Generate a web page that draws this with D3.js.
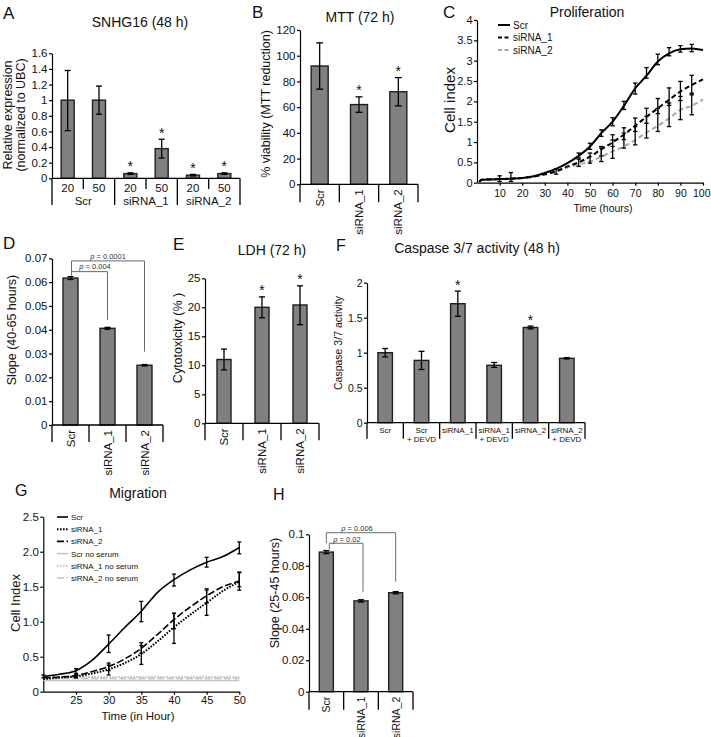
<!DOCTYPE html>
<html><head><meta charset="utf-8">
<script src="https://cdn.jsdelivr.net/npm/d3@7"></script>
<style>body{margin:0;background:#fff}</style>
</head><body>
<svg id="chart" width="711" height="737"></svg>
<script>
// ---------------- DATA ----------------
// A: SNHG16 (48 h)
const aCategories = ["20","50","20","50","20","50"];
const aGroups = ["Scr","siRNA_1","siRNA_2"];
const aValues = [1.0, 1.0, 0.06, 0.38, 0.04, 0.06];
const aLow = [0.61, 0.82, 0.05, 0.26, 0.03, 0.05];
const aHigh = [1.38, 1.18, 0.07, 0.50, 0.05, 0.07];
const aStars = [false, false, true, true, true, true];
const aTicks = [0, 0.2, 0.4, 0.6, 0.8, 1, 1.2, 1.4, 1.6];

// B: MTT (72 h)
const bCategories = ["Scr","siRNA_1","siRNA_2"];
const bValues = [92, 62, 72];
const bLow = [74, 56, 61];
const bHigh = [110, 68, 83];
const bStars = [false, true, true];
const bTicks = [0, 20, 40, 60, 80, 100, 120];

// C: Proliferation
const cTime = [1, 2, 5, 10, 15, 20, 25, 30, 35, 40, 45, 50, 55, 60, 65, 70, 75, 80, 85, 90, 95, 100];
const cScr  = [0.02, 0.07, 0.08, 0.09, 0.10, 0.115, 0.16, 0.24, 0.34, 0.48, 0.66, 0.89, 1.22, 1.50, 1.89, 2.32, 2.63, 2.98, 3.18, 3.28, 3.30, 3.26];
const cSi1  = [0.02, 0.07, 0.08, 0.09, 0.10, 0.115, 0.15, 0.21, 0.28, 0.40, 0.50, 0.64, 0.82, 0.99, 1.18, 1.40, 1.62, 1.83, 2.04, 2.24, 2.40, 2.54];
const cSi2  = [0.02, 0.07, 0.08, 0.09, 0.10, 0.115, 0.15, 0.20, 0.28, 0.37, 0.45, 0.52, 0.64, 0.77, 0.89, 1.05, 1.23, 1.40, 1.58, 1.79, 1.89, 2.05];
const cScrErrT = [10, 15, 45, 50, 55, 60, 65, 70, 75, 80, 85, 90, 95];
const cScrLo = [0.03, 0.03, 0.61, 0.82, 1.14, 1.40, 1.80, 2.18, 2.57, 2.90, 3.12, 3.21, 3.22];
const cScrHi = [0.17, 0.25, 0.73, 0.97, 1.30, 1.60, 2.00, 2.45, 2.83, 3.16, 3.32, 3.37, 3.40];
const cSi1ErrT = [35, 45, 50, 55, 60, 65, 70, 75, 80, 85, 90, 95];
const cSi1Lo = [0.21, 0.40, 0.48, 0.66, 0.89, 1.06, 1.26, 1.46, 1.70, 1.90, 2.02, 2.16];
const cSi1Hi = [0.34, 0.58, 0.73, 0.89, 1.18, 1.35, 1.59, 1.83, 2.07, 2.33, 2.49, 2.64];
const cSi2ErrT = [55, 60, 65, 70, 75, 80, 85, 90, 95];
const cSi2Lo = [0.52, 0.60, 0.85, 0.93, 1.10, 1.26, 1.38, 1.55, 1.67];
const cSi2Hi = [0.85, 1.05, 1.22, 1.38, 1.63, 1.83, 1.96, 2.12, 2.20];
const cYTicks = [0, 0.5, 1, 1.5, 2, 2.5, 3, 3.5, 4];
const cXTicks = [10, 20, 30, 40, 50, 60, 70, 80, 90, 100];
const cSeries = ["Scr", "siRNA_1", "siRNA_2"];

// D: Slope (40-65 hours)
const dCategories = ["Scr","siRNA_1","siRNA_2"];
const dValues = [0.0617, 0.0406, 0.0251];
const dLow = [0.0611, 0.0402, 0.0248];
const dHigh = [0.0623, 0.0410, 0.0254];
const dTicks = [0, 0.01, 0.02, 0.03, 0.04, 0.05, 0.06, 0.07];
const dPvals = ["p = 0.004", "p = 0.0001"];

// E: LDH (72 h)
const eCategories = ["Scr","siRNA_1","siRNA_2"];
const eValues = [11.0, 20.0, 20.4];
const eLow = [9.2, 18.2, 17.0];
const eHigh = [12.8, 21.8, 23.7];
const eStars = [false, true, true];
const eTicks = [0, 5, 10, 15, 20, 25];

// F: Caspase 3/7 activity (48 h)
const fCategories = [["Scr",""],["Scr","+ DEVD"],["siRNA_1",""],["siRNA_1","+ DEVD"],["siRNA_2",""],["siRNA_2","+ DEVD"]];
const fValues = [1.00, 0.89, 1.70, 0.82, 1.36, 0.92];
const fLow = [0.94, 0.76, 1.52, 0.79, 1.34, 0.91];
const fHigh = [1.06, 1.02, 1.88, 0.86, 1.38, 0.93];
const fStars = [false, false, true, false, true, false];
const fTicks = [0, 0.5, 1, 1.5, 2];

// G: Migration
const gTime = [20, 22.5, 25, 27.5, 30, 32.5, 35, 37.5, 40, 42.5, 45, 47.5, 50];
const gScr  = [0.22, 0.25, 0.30, 0.45, 0.68, 0.92, 1.15, 1.42, 1.60, 1.74, 1.85, 1.93, 2.06];
const gSi1  = [0.18, 0.20, 0.22, 0.26, 0.32, 0.41, 0.54, 0.72, 0.92, 1.10, 1.27, 1.44, 1.57];
const gSi2  = [0.20, 0.21, 0.23, 0.29, 0.36, 0.47, 0.62, 0.82, 1.03, 1.21, 1.37, 1.50, 1.58];
const gScrNS = [0.16, 0.16, 0.16, 0.16, 0.16, 0.16, 0.16, 0.16, 0.16, 0.16, 0.16, 0.16, 0.16];
const gSi1NS = [0.21, 0.21, 0.21, 0.21, 0.21, 0.21, 0.21, 0.21, 0.21, 0.21, 0.21, 0.21, 0.21];
const gSi2NS = [0.19, 0.19, 0.19, 0.19, 0.19, 0.19, 0.19, 0.19, 0.19, 0.19, 0.19, 0.19, 0.19];
const gScrErrT = [20, 25, 30, 35, 40, 45, 50];
const gScrLo = [0.20, 0.26, 0.56, 1.00, 1.51, 1.78, 1.97];
const gScrHi = [0.24, 0.33, 0.81, 1.29, 1.68, 1.92, 2.14];
const gSiErrT = [25, 30, 35, 40, 45, 50];
const gSi1Lo = [0.20, 0.24, 0.39, 0.69, 1.09, 1.45];
const gSi1Hi = [0.25, 0.38, 0.66, 1.12, 1.45, 1.70];
const gSi2Lo = [0.20, 0.30, 0.55, 0.90, 1.27, 1.50];
const gSi2Hi = [0.26, 0.41, 0.70, 1.12, 1.47, 1.71];
const gYTicks = [0, 0.5, 1.0, 1.5, 2.0, 2.5];
const gXTicks = [25, 30, 35, 40, 45, 50];
const gSeries = ["Scr", "siRNA_1", "siRNA_2", "Scr no serum", "siRNA_1 no serum", "siRNA_2 no serum"];

// H: Slope (25-45 hours)
const hCategories = ["Scr","siRNA_1","siRNA_2"];
const hValues = [0.0887, 0.0577, 0.0629];
const hLow = [0.0877, 0.0570, 0.0622];
const hHigh = [0.0897, 0.0584, 0.0636];
const hTicks = [0, 0.02, 0.04, 0.06, 0.08, 0.1];
const hPvals = ["p = 0.02", "p = 0.006"];

// ---------------- DRAWING ----------------
const FONT = '"Liberation Sans", Arial, Helvetica, sans-serif';
const svg = d3.select("#chart").attr("font-family", FONT);
const BAR_FILL = "#808080", BAR_STROKE = "#1e1e1e";

function styleAxis(g, fs) {
  g.attr("font-family", FONT).attr("font-size", fs);
  g.selectAll("path,line").attr("stroke", "#000").attr("stroke-width", 1.2);
  g.selectAll("text").attr("fill", "#111");
}
function text(x, y, s, o = {}) {
  const t = svg.append("text").attr("x", x).attr("y", y).text(s)
    .attr("font-size", o.fs || 12).attr("fill", o.fill || "#111")
    .attr("text-anchor", o.anchor || "middle");
  if (o.style) t.attr("font-style", o.style);
  return t;
}
function vtext(cx, cy, s, fs) {
  svg.append("text").attr("transform", `translate(${cx},${cy}) rotate(-90)`)
    .attr("text-anchor", "middle").attr("dy", "0.35em")
    .attr("font-size", fs).attr("fill", "#111").text(s);
}
function errBars(g, xs, ys, lo, hi, cap) {
  const sel = g.append("g").attr("stroke", "#000").attr("stroke-width", 1.3);
  lo.forEach((l, i) => {
    const x = xs[i];
    sel.append("line").attr("x1", x).attr("x2", x).attr("y1", ys(l)).attr("y2", ys(hi[i]));
    sel.append("line").attr("x1", x - cap).attr("x2", x + cap).attr("y1", ys(l)).attr("y2", ys(l));
    sel.append("line").attr("x1", x - cap).attr("x2", x + cap).attr("y1", ys(hi[i])).attr("y2", ys(hi[i]));
  });
}

function barPanel(o) {
  const y = d3.scaleLinear().domain([0, o.max]).range([o.y0, o.yTop]);
  const x = d3.scaleBand().domain(d3.range(o.values.length)).range([o.x0, o.x1]);
  const cx = i => x(i) + x.bandwidth() / 2;
  const ya = svg.append("g").attr("transform", `translate(${o.x0},0)`)
    .call(d3.axisLeft(y).tickValues(o.ticks).tickFormat(o.fmt || (d => String(d)))
      .tickSize(3).tickSizeOuter(0).tickPadding(1.5));
  styleAxis(ya, o.tickFs || 11.5);
  const g = svg.append("g");
  g.selectAll("rect").data(o.values).join("rect")
    .attr("x", (d, i) => cx(i) - o.barW / 2).attr("y", d => y(d))
    .attr("width", o.barW).attr("height", d => o.y0 - y(d))
    .attr("fill", BAR_FILL).attr("stroke", BAR_STROKE).attr("stroke-width", 1.4);
  errBars(g, o.values.map((d, i) => cx(i)), y, o.lo, o.hi, o.cap || 3);
  svg.append("line").attr("x1", o.x0).attr("x2", o.x1).attr("y1", o.y0).attr("y2", o.y0)
    .attr("stroke", "#000").attr("stroke-width", 1.3);
  const bounds = d3.range(o.values.length + 1).map(i => o.x0 + i * x.step());
  if (o.sepDepth) {
    bounds.forEach(b => svg.append("line").attr("x1", b).attr("x2", b)
      .attr("y1", o.y0).attr("y2", o.y0 + o.sepDepth).attr("stroke", "#000").attr("stroke-width", 1.3));
  }
  if (o.stars) {
    o.stars.forEach((s, i) => { if (s) text(cx(i), y(o.hi[i]) - 1.5, "*", { fs: 14 }); });
  }
  if (o.rotLabels) {
    o.rotLabels.forEach((s, i) => {
      svg.append("text").attr("transform", `translate(${cx(i) + 4},${o.y0 + 5}) rotate(-90)`)
        .attr("text-anchor", "end").attr("font-size", o.labFs || 11.5).attr("fill", "#111").text(s);
    });
  }
  return { x, y, cx, bounds };
}

function bracket(x1, x2, yTop, yL, yR, label, tx, ty) {
  const path = d3.path();
  path.moveTo(x1, yL); path.lineTo(x1, yTop); path.lineTo(x2, yTop); path.lineTo(x2, yR);
  svg.append("path").attr("d", path.toString()).attr("fill", "none")
    .attr("stroke", "#6a6a6a").attr("stroke-width", 1);
  const t = svg.append("text").attr("x", tx).attr("y", ty).attr("text-anchor", "middle")
    .attr("font-size", 7.5).attr("fill", "#333");
  const parts = label.split(" ");
  t.append("tspan").attr("font-style", "italic").text(parts[0]);
  t.append("tspan").text(" " + parts.slice(1).join(" "));
}

// ---------- Panel A ----------
text(3, 19, "A", { fs: 17, anchor: "start" });
text(140, 27, "SNHG16 (48 h)", { fs: 14 });
vtext(8, 115, "Relative expression", 12.5);
vtext(21, 115, "(normalized to UBC)", 12.5);
const A = barPanel({ x0: 52, x1: 240, y0: 178.3, yTop: 53.3, max: 1.6, ticks: aTicks,
  values: aValues, lo: aLow, hi: aHigh, stars: aStars, barW: 13, cap: 3 });
A.bounds.forEach((b, i) => {
  const long = i % 2 === 0;
  svg.append("line").attr("x1", b).attr("x2", b).attr("y1", 178.3).attr("y2", long ? 205 : 189)
    .attr("stroke", "#000").attr("stroke-width", 1.3);
});
aCategories.forEach((c, i) => text(A.cx(i), 191.5, c, { fs: 11.5 }));
aGroups.forEach((g, i) => text((A.bounds[2 * i] + A.bounds[2 * i + 2]) / 2, 204.5, g, { fs: 11.5 }));

// ---------- Panel B ----------
text(252, 18, "B", { fs: 17, anchor: "start" });
text(360, 22, "MTT (72 h)", { fs: 14 });
vtext(266, 104, "% viability (MTT reduction)", 12.5);
barPanel({ x0: 300, x1: 418, y0: 184.3, yTop: 30, max: 120, ticks: bTicks,
  values: bValues, lo: bLow, hi: bHigh, stars: bStars, barW: 17, cap: 3.5,
  sepDepth: 18, rotLabels: bCategories });

// ---------- Panel C ----------
text(443, 18, "C", { fs: 17, anchor: "start" });
text(587, 17, "Proliferation", { fs: 14 });
vtext(450, 100, "Cell index", 15);
{
  const x = d3.scaleLinear().domain([0, 100]).range([477, 703]);
  const y = d3.scaleLinear().domain([0, 4]).range([182.7, 20]);
  const ya = svg.append("g").attr("transform", "translate(477,0)")
    .call(d3.axisLeft(y).tickValues(cYTicks).tickFormat(d => String(d)).tickSize(3).tickSizeOuter(0).tickPadding(1.5));
  styleAxis(ya, 11);
  const xa = svg.append("g").attr("transform", "translate(0,182.7)")
    .call(d3.axisBottom(x).tickValues(cXTicks).tickFormat(d => String(d)).tickSize(3).tickSizeOuter(0).tickPadding(4));
  styleAxis(xa, 10.5);
  xa.selectAll(".tick").filter(d => d === 100).select("text").attr("text-anchor", "end").attr("dx", "7");
  text(603, 212, "Time (hours)", { fs: 10.5 });
  const line = d3.line().x((d, i) => x(cTime[i])).y(d => y(d)).curve(d3.curveMonotoneX);
  const styles = [
    { data: cSi2, stroke: "#a8a8a8", dash: "5,3", w: 2 },
    { data: cSi1, stroke: "#000", dash: "5,3", w: 2 },
    { data: cScr, stroke: "#000", dash: null, w: 2 }
  ];
  styles.forEach(s => {
    svg.append("path").attr("d", line(s.data)).attr("fill", "none")
      .attr("stroke", s.stroke).attr("stroke-width", s.w).attr("stroke-dasharray", s.dash);
  });
  const g = svg.append("g");
  errBars(g, cSi2ErrT.map(t => x(t)), y, cSi2Lo, cSi2Hi, 2.2);
  errBars(g, cSi1ErrT.map(t => x(t)), y, cSi1Lo, cSi1Hi, 2.2);
  errBars(g, cScrErrT.map(t => x(t)), y, cScrLo, cScrHi, 2.2);
  const leg = [{ stroke: "#000", dash: null }, { stroke: "#000", dash: "4,2.5" }, { stroke: "#a8a8a8", dash: "4,2.5" }];
  cSeries.forEach((s, i) => {
    const ly = 25 + i * 12.5;
    svg.append("line").attr("x1", 498).attr("x2", 510).attr("y1", ly).attr("y2", ly)
      .attr("stroke", leg[i].stroke).attr("stroke-width", 2).attr("stroke-dasharray", leg[i].dash);
    text(513, ly + 3.5, s, { fs: 10, anchor: "start" });
  });
}

// ---------- Panel D ----------
text(3, 249, "D", { fs: 17, anchor: "start" });
vtext(12, 330, "Slope (40-65 hours)", 12.5);
{
  const D = barPanel({ x0: 52, x1: 163, y0: 425, yTop: 258.3, max: 0.07, ticks: dTicks,
    values: dValues, lo: dLow, hi: dHigh, barW: 15, cap: 3, sepDepth: 17, rotLabels: dCategories });
  const y = D.y;
  bracket(D.cx(0) + 1, D.cx(1), y(0.0644), y(0.0627), y(0.0441), dPvals[0], 95, 269);
  bracket(D.cx(0) + 1, D.cx(2), y(0.0689), y(0.0644), y(0.0308), dPvals[1], 108, 258.5);
}

// ---------- Panel E ----------
text(173, 250, "E", { fs: 17, anchor: "start" });
text(272, 255, "LDH (72 h)", { fs: 14 });
vtext(178, 338, "Cytotoxicity (% )", 12.5);
barPanel({ x0: 205, x1: 319, y0: 423.3, yTop: 278.3, max: 25, ticks: eTicks,
  values: eValues, lo: eLow, hi: eHigh, stars: eStars, barW: 14, cap: 3,
  sepDepth: 17, rotLabels: eCategories });

// ---------- Panel F ----------
text(336, 251, "F", { fs: 16, anchor: "start" });
text(477, 253, "Caspase 3/7 activity (48 h)", { fs: 14 });
vtext(338, 343, "Caspase 3/7 activity", 10.5);
{
  const F = barPanel({ x0: 367, x1: 585, y0: 422.7, yTop: 282.7, max: 2, ticks: fTicks, tickFs: 10.5,
    values: fValues, lo: fLow, hi: fHigh, stars: fStars, barW: 14.5, cap: 3, sepDepth: 16 });
  fCategories.forEach((c, i) => {
    text(F.cx(i), 433, c[0], { fs: 8 });
    if (c[1]) text(F.cx(i), 442, c[1], { fs: 8 });
  });
}

// ---------- Panel G ----------
text(15, 496, "G", { fs: 16, anchor: "start" });
text(138, 498, "Migration", { fs: 14 });
vtext(15, 603, "Cell Index", 13);
{
  const x = d3.scaleLinear().domain([20, 50]).range([43.3, 239.3]);
  const y = d3.scaleLinear().domain([0, 2.5]).range([691.7, 516.7]);
  const ya = svg.append("g").attr("transform", "translate(43.3,0)")
    .call(d3.axisLeft(y).tickValues(gYTicks).tickFormat(d => d === 0 ? "0" : d3.format(".1f")(d)).tickSize(3).tickSizeOuter(0).tickPadding(1.5));
  styleAxis(ya, 11.5);
  const xa = svg.append("g").attr("transform", "translate(0,691.7)")
    .call(d3.axisBottom(x).tickValues(gXTicks).tickFormat(d => String(d)).tickSize(3).tickSizeOuter(0).tickPadding(1.5));
  styleAxis(xa, 11);
  text(138, 719.5, "Time (in Hour)", { fs: 11.5 });
  const line = d3.line().x((d, i) => x(gTime[i])).y(d => y(d)).curve(d3.curveMonotoneX);
  const sty = [
    { data: gScr, stroke: "#000", dash: null, w: 1.6 },
    { data: gSi1, stroke: "#000", dash: "1.6,1.4", w: 2 },
    { data: gSi2, stroke: "#000", dash: "7,2.5", w: 1.6 },
    { data: gScrNS, stroke: "#c4c4c4", dash: null, w: 1.6 },
    { data: gSi1NS, stroke: "#c4c4c4", dash: "1.6,1.4", w: 2 },
    { data: gSi2NS, stroke: "#c4c4c4", dash: "7,2.5", w: 1.6 }
  ];
  sty.slice(3).concat(sty.slice(0, 3)).forEach(s => {
    svg.append("path").attr("d", line(s.data)).attr("fill", "none")
      .attr("stroke", s.stroke).attr("stroke-width", s.w).attr("stroke-dasharray", s.dash);
  });
  const g = svg.append("g");
  errBars(g, gSiErrT.map(t => x(t)), y, gSi2Lo, gSi2Hi, 2);
  errBars(g, gSiErrT.map(t => x(t)), y, gSi1Lo, gSi1Hi, 2);
  errBars(g, gScrErrT.map(t => x(t)), y, gScrLo, gScrHi, 2);
  gSeries.forEach((s, i) => {
    const ly = 517 + i * 12.2;
    svg.append("line").attr("x1", 57).attr("x2", 68).attr("y1", ly).attr("y2", ly)
      .attr("stroke", sty[i].stroke).attr("stroke-width", sty[i].w).attr("stroke-dasharray", sty[i].dash);
    text(71, ly + 3, s, { fs: 8, anchor: "start" });
  });
}

// ---------- Panel H ----------
text(273, 500, "H", { fs: 16, anchor: "start" });
vtext(275, 593, "Slope (25-45 hours)", 12.5);
{
  const H = barPanel({ x0: 309, x1: 413, y0: 691.7, yTop: 534.3, max: 0.1, ticks: hTicks,
    values: hValues, lo: hLow, hi: hHigh, barW: 14, cap: 3, sepDepth: 18, rotLabels: hCategories, labFs: 10.5 });
  const y = H.y;
  bracket(H.cx(0), H.cx(2), y(0.101), y(0.0943), y(0.0699), hPvals[1], 357, 531);
  bracket(H.cx(0) + 3, H.cx(1) + 2, y(0.0943), y(0.0905), y(0.0635), hPvals[0], 347, 542);
}
</script>
</body></html>
